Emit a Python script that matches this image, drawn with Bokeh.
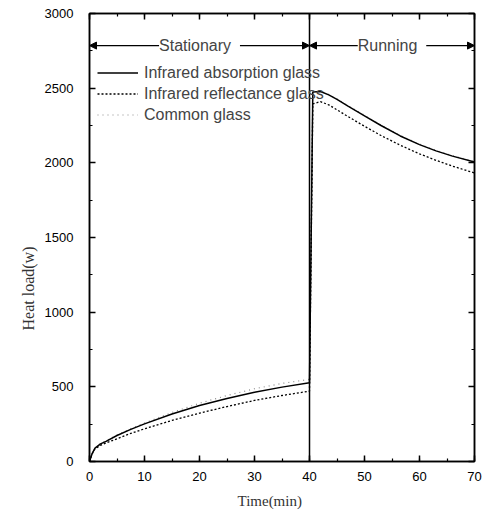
from bokeh.plotting import figure
from bokeh.models import (LinearAxis, SingleIntervalTicker, Range1d, Span, Arrow,
                          NormalHead, Label, Legend, LegendItem, Title)
from bokeh.embed import file_html
from bokeh.resources import INLINE

# ---- data ----
time_min = [0, 0.5, 1, 2, 3, 5, 7.5, 10, 15, 20, 25, 30, 35, 40,
            40.6, 42, 43.5, 45, 47, 50, 53, 56.5, 60, 63, 66, 70]
absorption = [0, 55, 90, 118, 135, 174, 215, 252, 318, 375, 422, 464, 498, 527,
              2475, 2478, 2455, 2425, 2380, 2315, 2250, 2180, 2122, 2080, 2045, 2005]
reflectance = [0, 52, 85, 108, 124, 152, 188, 219, 275, 324, 368, 409, 442, 471,
               2395, 2410, 2388, 2355, 2310, 2245, 2183, 2118, 2060, 2017, 1978, 1932]
common = [0, 55, 90, 120, 138, 178, 220, 258, 328, 390, 442, 487, 523, 550,
          2478, 2481, 2458, 2428, 2383, 2318, 2253, 2183, 2125, 2083, 2048, 2008]
series_names = ["Infrared absorption glass", "Infrared reflectance glass", "Common glass"]
phase_names = ["Stationary", "Running"]
phase_start = [0, 40]
phase_end = [40, 70]
phase_arrow_y = 2785
x_limits = [0, 70]
y_limits = [0, 3000]
x_title = "Time(min)"
y_title = "Heat load(w)"

FONT = "Liberation Sans"
SERIF = "Liberation Serif"

p = figure(width=482, height=517, output_backend="svg", toolbar_location=None,
           x_range=Range1d(*x_limits), y_range=Range1d(*y_limits),
           min_border_left=89, min_border_right=8, min_border_top=13, min_border_bottom=56)
p.grid.visible = False
p.outline_line_color = "black"
p.outline_line_width = 1.5
p.background_fill_color = "white"
p.border_fill_color = "white"

p.xaxis.ticker = SingleIntervalTicker(interval=10, num_minor_ticks=2)
p.yaxis.ticker = SingleIntervalTicker(interval=500, num_minor_ticks=2)

def style_axis(ax, show_labels=True):
    ax.axis_line_color = "black"
    ax.axis_line_width = 1.5
    ax.major_tick_in = 6
    ax.major_tick_out = 0
    ax.minor_tick_in = 3
    ax.minor_tick_out = 0
    ax.major_tick_line_width = 1.5
    ax.minor_tick_line_width = 1.2
    ax.major_label_text_font = FONT
    ax.major_label_text_font_size = "13px" if show_labels else "0px"
    ax.major_label_text_color = "black" if show_labels else None

style_axis(p.xaxis[0])
style_axis(p.yaxis[0])
p.xaxis.major_label_standoff = 10
p.yaxis.major_label_standoff = 16

ax_r = LinearAxis(ticker=SingleIntervalTicker(interval=500, num_minor_ticks=2))
style_axis(ax_r, False)
p.add_layout(ax_r, "right")
ax_t = LinearAxis(ticker=SingleIntervalTicker(interval=10, num_minor_ticks=2))
style_axis(ax_t, False)
p.add_layout(ax_t, "above")

# separator between phases
p.add_layout(Span(location=phase_end[0], dimension="height", line_color="black", line_width=1.5))

# curves
r_common = p.line(time_min, common, line_color="#8a8a8a", line_width=1.2, line_dash="1 4")
r_abs = p.line(time_min, absorption, line_color="black", line_width=1.5)
r_ref = p.line(time_min, reflectance, line_color="black", line_width=1.3, line_dash="2 2")

# phase arrows
for name, s, e in zip(phase_names, phase_start, phase_end):
    p.add_layout(Arrow(x_start=s, x_end=e, y_start=phase_arrow_y, y_end=phase_arrow_y,
                       line_color="black", line_width=1.2,
                       start=NormalHead(size=7, fill_color="black", line_color="black"),
                       end=NormalHead(size=7, fill_color="black", line_color="black")))
    p.add_layout(Label(x=(s + e) / 2, y=phase_arrow_y, text=" " + name + " ",
                       text_align="center", text_baseline="middle",
                       text_font=FONT, text_font_size="16px",
                       background_fill_color="white"))

legend = Legend(items=[LegendItem(label=series_names[0], renderers=[r_abs]),
                       LegendItem(label=series_names[1], renderers=[r_ref]),
                       LegendItem(label=series_names[2], renderers=[r_common])],
                location=(8, 336), margin=0, padding=0, spacing=0,
                glyph_width=41, glyph_height=21, label_height=21, label_standoff=6,
                label_text_font=FONT, label_text_font_size="16px",
                border_line_color=None, background_fill_alpha=0)
p.add_layout(legend)

# axis titles
p.add_layout(Title(text=y_title, align="left", offset=131, standoff=9,
                   text_font=SERIF, text_font_size="16px", text_font_style="normal",
                   text_color="#333333"), "left")
p.add_layout(Title(text=x_title, align="left", offset=148, standoff=14,
                   text_font=SERIF, text_font_size="15px", text_font_style="normal",
                   text_color="#333333"), "below")

open("out.html", "w").write(file_html(p, INLINE))
